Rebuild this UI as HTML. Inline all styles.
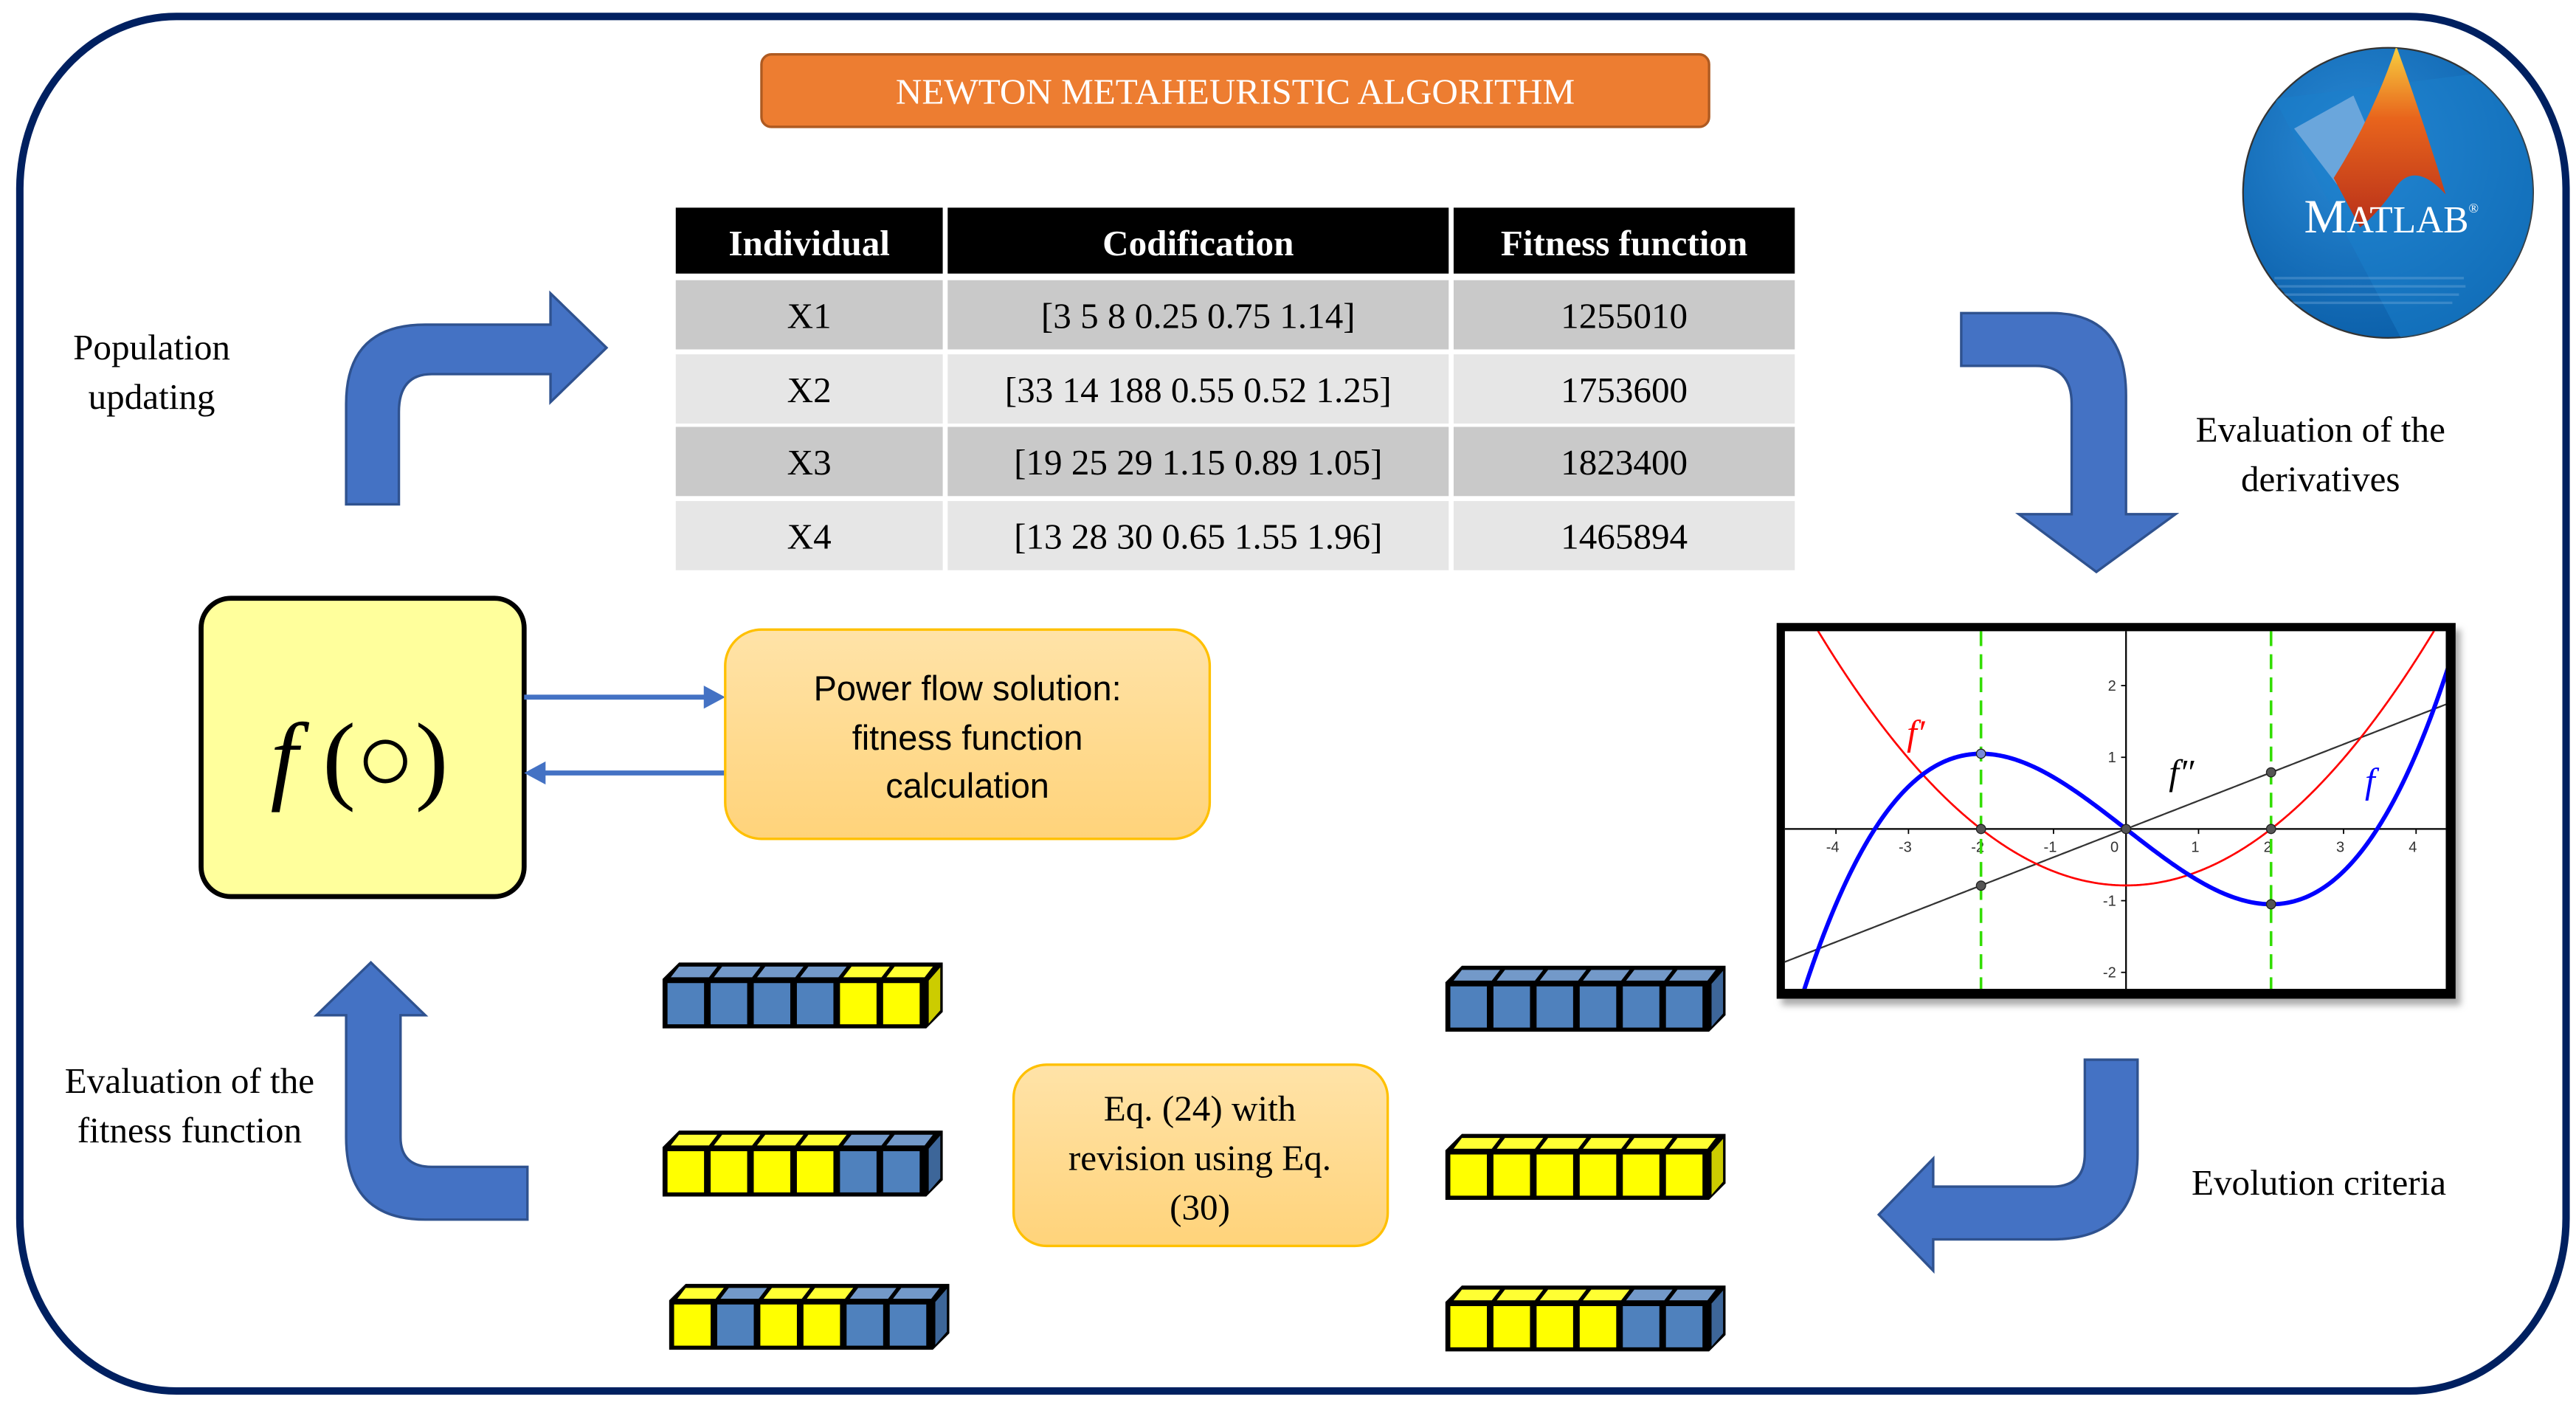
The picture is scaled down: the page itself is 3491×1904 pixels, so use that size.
<!DOCTYPE html>
<html><head><meta charset="utf-8">
<style>
html,body{margin:0;padding:0;background:#fff;}
svg{display:block;}
.s{font-family:"Liberation Serif",serif;}
.a{font-family:"Liberation Sans",sans-serif;}
</style></head>
<body>
<svg id="c" width="3491" height="1904" viewBox="0 0 1563 852.5" xmlns="http://www.w3.org/2000/svg">
<defs>
<linearGradient id="ob" x1="0" y1="0" x2="0" y2="1"><stop offset="0" stop-color="#FFE3A8"/><stop offset="1" stop-color="#FFD37A"/></linearGradient>
<radialGradient id="mb" cx="0.4" cy="0.35" r="0.7"><stop offset="0" stop-color="#2a8ad6"/><stop offset="1" stop-color="#0a5ea8"/></radialGradient>
<linearGradient id="mo" x1="0" y1="0" x2="0" y2="1"><stop offset="0" stop-color="#f7d040"/><stop offset="0.4" stop-color="#e8641c"/><stop offset="1" stop-color="#b8301a"/></linearGradient>
<clipPath id="pc"><rect x="1083" y="383" width="401" height="217"/></clipPath>
<clipPath id="mc"><circle cx="1449" cy="117" r="88"/></clipPath>
<filter id="sh" x="-5%" y="-5%" width="115%" height="115%"><feDropShadow dx="3" dy="4" stdDeviation="2" flood-color="#888" flood-opacity="0.7"/></filter>
</defs>

<rect x="12" y="10" width="1545" height="834" rx="95" ry="105" fill="#fff" stroke="#002060" stroke-width="4.5"/>

<rect x="462" y="33" width="575" height="44" rx="6" fill="#ED7D31" stroke="#AE5A21" stroke-width="1.5"/>
<text x="749.5" y="63" class="s" font-size="22" fill="#fff" text-anchor="middle">NEWTON METAHEURISTIC ALGORITHM</text>

<g class="s" font-size="22" text-anchor="middle">
<rect x="410" y="126" width="162" height="40" fill="#000"/>
<rect x="575" y="126" width="304" height="40" fill="#000"/>
<rect x="882" y="126" width="207" height="40" fill="#000"/>
<text x="491" y="155" fill="#fff" font-weight="bold">Individual</text>
<text x="727" y="155" fill="#fff" font-weight="bold">Codification</text>
<text x="985.5" y="155" fill="#fff" font-weight="bold">Fitness function</text>

<rect x="410" y="170" width="162" height="42" fill="#C9C9C9"/><rect x="575" y="170" width="304" height="42" fill="#C9C9C9"/><rect x="882" y="170" width="207" height="42" fill="#C9C9C9"/>
<rect x="410" y="215" width="162" height="42" fill="#E6E6E6"/><rect x="575" y="215" width="304" height="42" fill="#E6E6E6"/><rect x="882" y="215" width="207" height="42" fill="#E6E6E6"/>
<rect x="410" y="259" width="162" height="42" fill="#C9C9C9"/><rect x="575" y="259" width="304" height="42" fill="#C9C9C9"/><rect x="882" y="259" width="207" height="42" fill="#C9C9C9"/>
<rect x="410" y="304" width="162" height="42" fill="#E6E6E6"/><rect x="575" y="304" width="304" height="42" fill="#E6E6E6"/><rect x="882" y="304" width="207" height="42" fill="#E6E6E6"/>
<text x="491" y="199">X1</text><text x="727" y="199">[3 5 8 0.25 0.75 1.14]</text><text x="985.5" y="199">1255010</text>
<text x="491" y="244">X2</text><text x="727" y="244">[33 14 188 0.55 0.52 1.25]</text><text x="985.5" y="244">1753600</text>
<text x="491" y="288">X3</text><text x="727" y="288">[19 25 29 1.15 0.89 1.05]</text><text x="985.5" y="288">1823400</text>
<text x="491" y="333">X4</text><text x="727" y="333">[13 28 30 0.65 1.55 1.96]</text><text x="985.5" y="333">1465894</text>
</g>

<g class="s" font-size="22" text-anchor="middle" fill="#000">
<text x="92" y="218">Population</text><text x="92" y="248">updating</text>
<text x="1408" y="268">Evaluation of the</text><text x="1408" y="298">derivatives</text>
<text x="115" y="663">Evaluation of the</text><text x="115" y="693">fitness function</text>
<text x="1407" y="725">Evolution criteria</text>
</g>

<g fill="#4472C4" stroke="#2F528F" stroke-width="1.5">
<path d="M210,306 L210,245 Q210,197 258,197 L334,197 L334,178 L368,211 L334,244 L334,227 L262,227 Q242,227 242,250 L242,306 Z"/>
<path d="M1190,190 L1245,190 Q1290,190 1290,240 L1290,312 L1320,312 L1272,347 L1225,312 L1257,312 L1257,245 Q1257,222 1235,222 L1190,222 Z"/>
<path d="M225,584 L258,616 L243,616 L243,690 Q243,708 262,708 L320,708 L320,740 L258,740 Q210,740 210,690 L210,616 L192,616 Z"/>
<path d="M1265,643 L1297,643 L1297,700 Q1297,752 1245,752 L1173,752 L1173,771 L1140,737 L1173,703 L1173,720 L1245,720 Q1265,720 1265,700 Z"/>
</g>

<circle cx="1449" cy="117" r="88" fill="url(#mb)" stroke="#333" stroke-width="1"/>
<g clip-path="url(#mc)">
<path d="M1380,60 L1470,230 L1540,230 L1540,40 Z" fill="#1a7fcc" opacity="0.5"/>
<path d="M1392,78 L1428,58 L1440,86 L1418,112 Z" fill="#6aa6dc"/>
<path d="M1416,108 Q1440,70 1454,28 Q1470,72 1484,118 Q1464,96 1452,116 Q1442,130 1432,138 Z" fill="url(#mo)"/>
<text x="1451" y="141" class="s" font-size="29" fill="#fff" text-anchor="middle">M<tspan font-size="23">ATLAB</tspan><tspan font-size="8" dy="-12">®</tspan></text>
<g fill="#7fb2e0" opacity="0.35"><rect x="1380" y="168" width="115" height="1.5"/><rect x="1378" y="173" width="118" height="1.5"/><rect x="1380" y="178" width="112" height="1.5"/><rect x="1390" y="183" width="98" height="1.5"/></g>
</g>

<rect x="122" y="363" width="196" height="181" rx="18" fill="#FFFF9C" stroke="#000" stroke-width="3"/>
<text x="218" y="480" class="s" font-size="60" text-anchor="middle"><tspan font-style="italic">f</tspan> (○)</text>

<g stroke="#4472C4" stroke-width="3" fill="#4472C4">
<line x1="318" y1="423" x2="428" y2="423"/><path d="M440,423 L427,416 L427,430 Z" stroke="none"/>
<line x1="440" y1="469" x2="330" y2="469"/><path d="M318,469 L331,462 L331,476 Z" stroke="none"/>
</g>

<rect x="440" y="382" width="294" height="127" rx="22" fill="url(#ob)" stroke="#FFC000" stroke-width="1.5"/>
<g class="a" font-size="21" text-anchor="middle"><text x="587" y="425">Power flow solution:</text><text x="587" y="455">fitness function</text><text x="587" y="484">calculation</text></g>

<rect x="615" y="646" width="227" height="110" rx="20" fill="url(#ob)" stroke="#FFC000" stroke-width="1.5"/>
<g class="s" font-size="22" text-anchor="middle"><text x="728" y="680">Eq. (24) with</text><text x="728" y="710">revision using Eq.</text><text x="728" y="740">(30)</text></g>

<rect x="1078" y="378" width="412" height="228" fill="#000" filter="url(#sh)"/>
<rect x="1083" y="383" width="401" height="217" fill="#fff"/>
<g id="plot" clip-path="url(#pc)"></g>

<g id="chroms"></g>
</svg>
<script>
(function(){
var NS="http://www.w3.org/2000/svg";
function el(p,t,a,txt){var e=document.createElementNS(NS,t);for(var k in a)e.setAttribute(k,a[k]);if(txt)e.textContent=txt;p.appendChild(e);return e;}
var g=document.getElementById('plot');
var ox=1290,oy=503,sx=44,sy=43.5;
function X(x){return ox+x*sx}function Y(y){return oy-y*sy}
el(g,'line',{x1:1083,y1:oy,x2:1484,y2:oy,stroke:'#000','stroke-width':1});
el(g,'line',{x1:ox,y1:383,x2:ox,y2:600,stroke:'#000','stroke-width':1});
for(var i=-4;i<=4;i++){ if(i==0)continue; el(g,'line',{x1:X(i),y1:oy,x2:X(i),y2:oy+3,stroke:'#000','stroke-width':0.8});
 el(g,'text',{x:X(i)-2,y:oy+14,'font-size':9,'font-family':'Liberation Sans,sans-serif','text-anchor':'middle',fill:'#333'},String(i));}
el(g,'text',{x:ox-7,y:oy+14,'font-size':9,'font-family':'Liberation Sans,sans-serif','text-anchor':'middle',fill:'#333'},'0');
[-2,-1,1,2].forEach(function(j){el(g,'line',{x1:ox-3,y1:Y(j),x2:ox,y2:Y(j),stroke:'#000','stroke-width':0.8});
 el(g,'text',{x:ox-6,y:Y(j)+3,'font-size':9,'font-family':'Liberation Sans,sans-serif','text-anchor':'end',fill:'#333'},String(j));});
[-2,2].forEach(function(v){el(g,'line',{x1:X(v),y1:383,x2:X(v),y2:600,stroke:'#33dd00','stroke-width':1.6,'stroke-dasharray':'9,5'});});
var a=0.0656;
function path(f,c,w){var d='';for(var x=-4.8;x<=4.8;x+=0.02){d+=(d?'L':'M')+X(x).toFixed(2)+','+Y(f(x)).toFixed(2);}el(g,'path',{d:d,fill:'none',stroke:c,'stroke-width':w});}
path(function(x){return 0.394*x},'#333',1);
path(function(x){return 3*a*(x*x-4)},'#f00',1.2);
path(function(x){return a*(x*x*x-12*x)},'#00f',2.6);
[[-2,1.05,'#7a8ad8'],[-2,0,'#555'],[0,0,'#555'],[2,0,'#555'],[-2,-0.79,'#555'],[2,0.79,'#555'],[2,-1.05,'#555']].forEach(function(p){el(g,'circle',{cx:X(p[0]),cy:Y(p[1]),r:2.8,fill:p[2],stroke:'#222','stroke-width':0.6});});
el(g,'text',{x:1157,y:452,'font-size':22,'font-style':'italic','font-family':'Liberation Serif,serif',fill:'#f00'},"f′");
el(g,'text',{x:1316,y:476,'font-size':22,'font-style':'italic','font-family':'Liberation Serif,serif',fill:'#000'},"f″");
el(g,'text',{x:1435,y:481,'font-size':22,'font-style':'italic','font-family':'Liberation Serif,serif',fill:'#00f'},"f");
var C=document.getElementById('chroms');
var col={B:['#4F81BD','#7399C9','#3D6699'],Y:['#FFFF00','#FFFF33','#CCCC00']};
function chrom(x0,y0,pat){
 var W=160,H=30,d=10;
 el(C,'path',{d:'M'+x0+','+(y0+d)+' L'+(x0+d)+','+y0+' L'+(x0+W+d)+','+y0+' L'+(x0+W+d)+','+(y0+H)+' L'+(x0+W)+','+(y0+H+d)+' L'+x0+','+(y0+H+d)+' Z',fill:'#000'});
 var cw=(W-3)/6;
 for(var i=0;i<6;i++){var c=col[pat[i]];var cx=x0+3+i*cw;
  el(C,'rect',{x:cx,y:y0+d+2.5,width:cw-4,height:H-5,fill:c[0]});
  el(C,'path',{d:'M'+(cx+2)+','+(y0+d-1)+' L'+(cx+7)+','+(y0+2.5)+' L'+(cx+cw+4)+','+(y0+2.5)+' L'+(cx+cw-1)+','+(y0+d-1)+' Z',fill:c[1]});
 }
 var c=col[pat[5]];
 el(C,'path',{d:'M'+(x0+W+1.5)+','+(y0+d+1)+' L'+(x0+W+d-1.5)+','+(y0+3)+' L'+(x0+W+d-1.5)+','+(y0+H-1)+' L'+(x0+W+1.5)+','+(y0+H+d-3)+' Z',fill:c[2]});
}
chrom(402,584,'BBBBYY');chrom(402,686,'YYYYBB');chrom(406,779,'YBYYBB');
chrom(877,586,'BBBBBB');chrom(877,688,'YYYYYY');chrom(877,780,'YYYYBB');
})();
</script>
</body></html>
